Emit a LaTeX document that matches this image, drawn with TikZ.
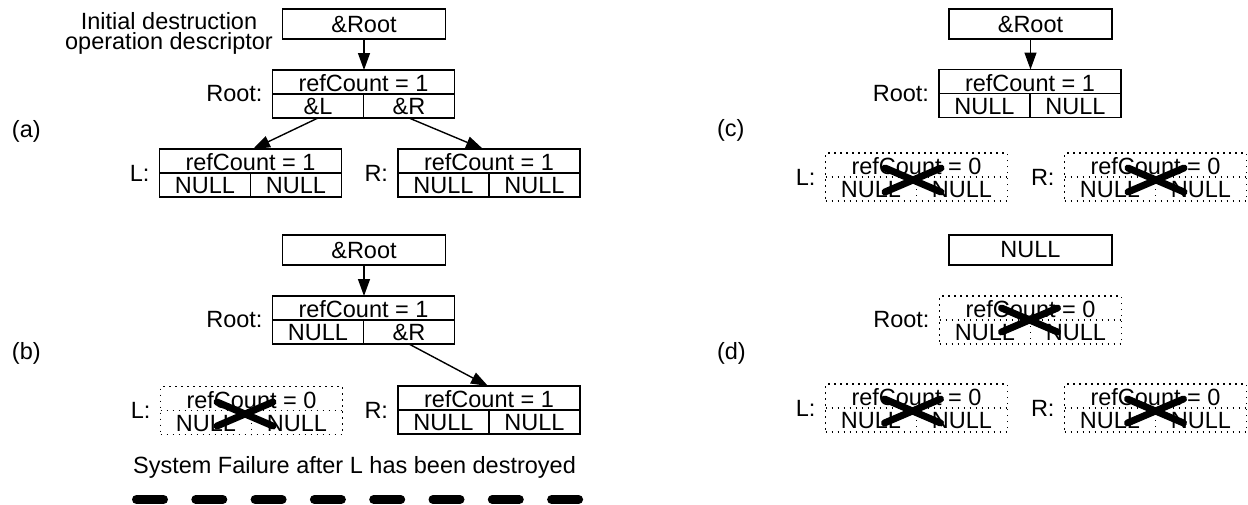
\documentclass[tikz,border=0pt]{standalone}
\usepackage{fontspec}
\setmainfont{Liberation Sans}
\usetikzlibrary{calc,arrows.meta}
\tikzset{
  every node/.style={font=\fontsize{23.5}{26}\selectfont, inner sep=0pt, outer sep=0pt},
  solidbox/.style={draw, line width=1.6pt},
  solidboxline/.style={line width=1.6pt},
  dotbox/.style={draw, line width=1.5pt, dash pattern=on 1.5pt off 4.5pt},
  dotboxline/.style={line width=1.2pt, dash pattern=on 1.2pt off 4.8pt},
  ptrbox/.style={draw, line width=1.6pt, minimum width=163pt, minimum height=30pt},
  link/.style={-{Triangle[length=17pt,width=12pt]}, line width=1.4pt},
  cross/.style={line width=7pt, line cap=round},
  sep/.style={line width=9pt, line cap=round, dash pattern=on 27pt off 32.3pt},
}
\newcommand{\recbox}[7]{%
  \node[#4, minimum width=182pt, minimum height=48pt, anchor=north] (#1) at (#2,#3) {};
  \draw[#4line] (#1.west) -- (#1.east) (#1.center) -- (#1.south);
  \node[anchor=base] (#1t) at ($(#1.north)+(0,21.5)$) {#5};
  \node[anchor=base] (#1l) at ($(#1.south)+(-45.5,-3.5)$) {#6};
  \node[anchor=base] (#1r) at ($(#1.south)+(45.5,-3.5)$) {#7};
}
\newcommand{\killbox}[3]{%
  \draw[cross] ($(#1.center)+(#2,#3)+(-28,12)$) -- ($(#1.center)+(#2,#3)+(28,-12)$)
               ($(#1.center)+(#2,#3)+(-28,-12)$) -- ($(#1.center)+(#2,#3)+(28,12)$);
}
\begin{document}
\begin{tikzpicture}[x=1pt, y=-1pt]
\useasboundingbox (0,0) rectangle (1248,504);

% ---------- (a) ----------
\node[anchor=north, align=center, font=\fontsize{23.5}{19.5}\selectfont] (init) at (169,12.8)
  {Initial destruction\\operation descriptor};
\node[ptrbox] (ptrA) at (364,24) {\&Root};
\recbox{rootA}{363.5}{70}{solidbox}{refCount = 1}{\&L}{\&R}
\recbox{lA}{250.5}{149}{solidbox}{refCount = 1}{NULL}{NULL}
\recbox{rA}{489}{149}{solidbox}{refCount = 1}{NULL}{NULL}
\node[anchor=east] (rootAlab) at ($(rootA.west)+(-10,0)$) {Root:};
\node[anchor=east] (lAlab) at ($(lA.west)+(-10,0)$) {L:};
\node[anchor=east] (rAlab) at ($(rA.west)+(-10,0)$) {R:};
\node[anchor=west] (labA) at (12,131) {(a)};
\draw[link] (ptrA.south) -- (ptrA.south |- rootA.north);
\draw[link] ($(rootA.south)+(-45.5,0)$) -- ($(lA.north)+(2.5,0)$);
\draw[link] ($(rootA.south)+(45.5,0)$) -- ($(rA.north)+(-6,0)$);

% ---------- (b) ----------
\node[ptrbox] (ptrB) at (364,250) {\&Root};
\recbox{rootB}{363.5}{296}{solidbox}{refCount = 1}{NULL}{\&R}
\recbox{lB}{251.5}{386.5}{dotbox}{refCount = 0}{NULL}{NULL}
\recbox{rB}{489}{386}{solidbox}{refCount = 1}{NULL}{NULL}
\node[anchor=east] (rootBlab) at ($(rootB.west)+(-10,0)$) {Root:};
\node[anchor=east] (lBlab) at ($(lB.west)+(-10,0)$) {L:};
\node[anchor=east] (rBlab) at ($(rB.west)+(-10,0)$) {R:};
\node[anchor=west] (labB) at (12,353) {(b)};
\draw[link] (ptrB.south) -- (ptrB.south |- rootB.north);
\draw[link] ($(rootB.south)+(45.5,0)$) -- ($(rB.north)+(-1,0)$);
\killbox{lB}{-6.5}{3.5}
\node[anchor=base] (caption) at (354.5,473.5) {System Failure after L has been destroyed};
\coordinate (sepL) at (136.5,499.5);
\coordinate (sepR) at (579,499.5);
\draw[sep] (sepL) -- (sepR);

% ---------- (c) ----------
\node[ptrbox] (ptrC) at (1030.5,24) {\&Root};
\recbox{rootC}{1030}{69.5}{solidbox}{refCount = 1}{NULL}{NULL}
\recbox{lC}{916.5}{153}{dotbox}{refCount = 0}{NULL}{NULL}
\recbox{rC}{1155.5}{153}{dotbox}{refCount = 0}{NULL}{NULL}
\node[anchor=east] (rootClab) at ($(rootC.west)+(-10,0)$) {Root:};
\node[anchor=east] (lClab) at ($(lC.west)+(-10,0)$) {L:};
\node[anchor=east] (rClab) at ($(rC.west)+(-10,0)$) {R:};
\node[anchor=west] (labC) at (717,130) {(c)};
\draw[link] (ptrC.south) -- (ptrC.south |- rootC.north);
\killbox{lC}{-3.5}{3}
\killbox{rC}{0.5}{3}

% ---------- (d) ----------
\node[ptrbox] (ptrD) at (1030.5,250) {NULL};
\recbox{rootD}{1030.5}{296}{dotbox}{refCount = 0}{NULL}{NULL}
\recbox{lD}{916.5}{384}{dotbox}{refCount = 0}{NULL}{NULL}
\recbox{rD}{1155.5}{384}{dotbox}{refCount = 0}{NULL}{NULL}
\node[anchor=east] (rootDlab) at ($(rootD.west)+(-10,0)$) {Root:};
\node[anchor=east] (lDlab) at ($(lD.west)+(-10,0)$) {L:};
\node[anchor=east] (rDlab) at ($(rD.west)+(-10,0)$) {R:};
\node[anchor=west] (labD) at (717,353) {(d)};
\killbox{rootD}{-1}{0}
\killbox{lD}{-4}{3}
\killbox{rD}{0}{3}
\end{tikzpicture}
\end{document}
